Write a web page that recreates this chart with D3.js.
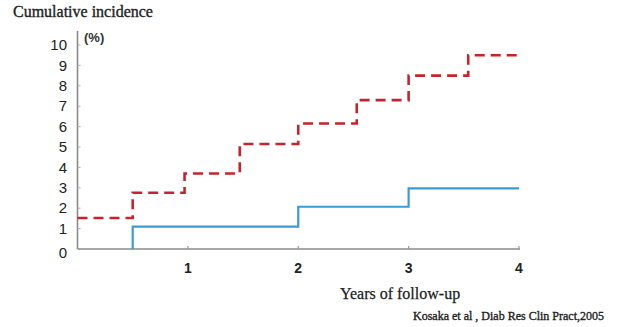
<!DOCTYPE html>
<html>
<head>
<meta charset="utf-8">
<script src="https://cdn.jsdelivr.net/npm/d3@7"></script>
<style>
  body { margin: 0; background: #fff; }
  svg { display: block; }
</style>
</head>
<body>
<div id="chart"></div>
<script>
// step data (years, cumulative incidence %)
var redYears  = [0, 0.5, 0.97, 1.47, 2.0, 2.53, 3.0, 3.54, 4.0];
var redValues = [1.52, 2.76, 3.7, 5.15, 6.15, 7.3, 8.5, 9.5, 9.5];
var blueYears  = [0.5, 0.5, 2.0, 3.0, 4.0];
var blueValues = [0, 1.1, 2.07, 2.97, 2.97];
var yTicks = [0, 1, 2, 3, 4, 5, 6, 7, 8, 9, 10];
var xTicks = [1, 2, 3, 4];

var width = 634, height = 327;
var x = d3.scaleLinear().domain([0, 4]).range([77.5, 519]);
var y = d3.scaleLinear().domain([0, 10]).range([249, 45]);

var svg = d3.select('#chart').append('svg')
    .attr('width', width)
    .attr('height', height);

// axes
var axisColor = '#8a8a8a';
svg.append('line')
    .attr('x1', x(0)).attr('x2', x(0))
    .attr('y1', 31).attr('y2', y(0))
    .attr('stroke', axisColor).attr('stroke-width', 1.6);
svg.append('line')
    .attr('x1', x(0)).attr('x2', x(4) + 1)
    .attr('y1', y(0)).attr('y2', y(0))
    .attr('stroke', axisColor).attr('stroke-width', 1.6);

var yAxis = svg.append('g');
yAxis.selectAll('line')
    .data(yTicks.slice(1))
  .enter().append('line')
    .attr('x1', x(0)).attr('x2', x(0) + 3)
    .attr('y1', function(d) { return y(d); })
    .attr('y2', function(d) { return y(d); })
    .attr('stroke', '#aaa').attr('stroke-width', 1);
yAxis.selectAll('text')
    .data(yTicks)
  .enter().append('text')
    .attr('x', 67)
    .attr('y', function(d) { return y(d); })
    .attr('dy', d => d === 0 ? '0.6em' : '0.35em')
    .attr('text-anchor', 'end')
    .style('font', '15px "Liberation Sans", Arial, sans-serif')
    .attr('fill', '#222')
    .text(function(d) { return d; });

var xAxis = svg.append('g');
xAxis.selectAll('line')
    .data(xTicks)
  .enter().append('line')
    .attr('x1', function(d) { return x(d); })
    .attr('x2', function(d) { return x(d); })
    .attr('y1', y(0)).attr('y2', y(0) - 3)
    .attr('stroke', '#999').attr('stroke-width', 1.2);
xAxis.selectAll('text')
    .data(xTicks)
  .enter().append('text')
    .attr('x', function(d) { return x(d); })
    .attr('y', 273)
    .attr('text-anchor', 'middle')
    .style('font', 'bold 14px "Liberation Sans", Arial, sans-serif')
    .attr('fill', '#222')
    .text(function(d) { return d; });

// step lines
var line = d3.line()
    .x(function(d) { return x(d[0]); })
    .y(function(d) { return y(d[1]); })
    .curve(d3.curveStepAfter);

svg.append('path')
    .datum(d3.zip(blueYears, blueValues))
    .attr('d', line)
    .attr('fill', 'none')
    .attr('stroke', '#3b9bd4')
    .attr('stroke-width', 2.2);

svg.append('path')
    .datum(d3.zip(redYears, redValues))
    .attr('d', line)
    .attr('fill', 'none')
    .attr('stroke', '#c8232c')
    .attr('stroke-width', 2.6)
    .attr('stroke-dasharray', '10,6');

// labels
var serif = '"Liberation Serif", "DejaVu Serif", serif';
svg.append('text')
    .attr('x', 13).attr('y', 17)
    .style('font', '16px ' + serif)
    .attr('fill', '#222').attr('stroke', '#222').attr('stroke-width', 0.35)
    .text('Cumulative incidence');
svg.append('text')
    .attr('x', 84).attr('y', 42)
    .style('font', 'bold 13px "Liberation Sans", Arial, sans-serif')
    .attr('fill', '#333')
    .text('(%)');
svg.append('text')
    .attr('x', 340).attr('y', 299)
    .style('font', '16px ' + serif)
    .attr('fill', '#222').attr('stroke', '#222').attr('stroke-width', 0.25)
    .text('Years of follow-up');
svg.append('text')
    .attr('x', 413).attr('y', 320)
    .style('font', '12px ' + serif)
    .attr('fill', '#222').attr('stroke', '#222').attr('stroke-width', 0.35)
    .text('Kosaka et al , Diab Res Clin Pract,2005');
</script>
</body>
</html>
